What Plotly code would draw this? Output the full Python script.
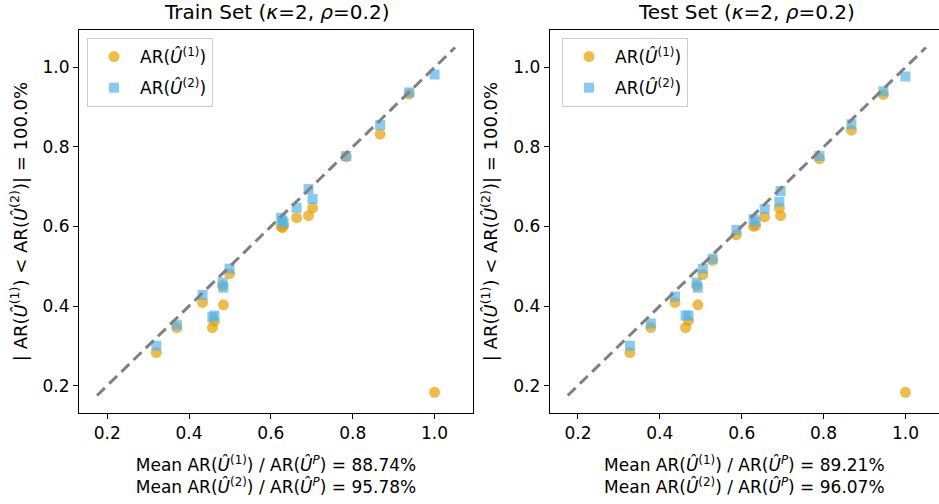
import plotly.graph_objects as go

# ---------------- data ----------------
train_x = [0.320, 0.370, 0.433, 0.457, 0.462, 0.482, 0.484, 0.499, 0.625, 0.631, 0.628,
           0.663, 0.692, 0.702, 0.784, 0.867, 0.938, 1.000]
train_u1 = [0.283, 0.346, 0.409, 0.346, 0.362, 0.451, 0.403, 0.481, 0.600, 0.603, 0.597,
            0.622, 0.627, 0.647, 0.775, 0.832, 0.933, 0.183]
train_u2 = [0.300, 0.353, 0.428, 0.372, 0.376, 0.459, 0.446, 0.494, 0.622, 0.609, 0.614,
            0.647, 0.694, 0.669, 0.777, 0.855, 0.937, 0.982]

test_x = [0.327, 0.378, 0.437, 0.463, 0.470, 0.490, 0.493, 0.505, 0.529, 0.587, 0.629,
          0.634, 0.656, 0.692, 0.695, 0.790, 0.868, 0.946, 1.000]
test_u1 = [0.283, 0.346, 0.409, 0.346, 0.363, 0.451, 0.403, 0.479, 0.515, 0.579, 0.600,
           0.603, 0.624, 0.647, 0.627, 0.770, 0.842, 0.932, 0.183]
test_u2 = [0.300, 0.356, 0.424, 0.376, 0.376, 0.459, 0.446, 0.494, 0.519, 0.591, 0.619,
           0.612, 0.644, 0.662, 0.689, 0.777, 0.857, 0.940, 0.977]

diag = [0.175, 1.05]
panel_titles = ["Train Set (<i>κ</i>=2, <i>ρ</i>=0.2)", "Test Set (<i>κ</i>=2, <i>ρ</i>=0.2)"]
mean_ratio_1 = ["88.74%", "89.21%"]
mean_ratio_2 = ["95.78%", "96.07%"]
frac_better = ["100.0%", "100.0%"]
tick_vals = [0.2, 0.4, 0.6, 0.8, 1.0]

# ---------------- style ----------------
FONT = "DejaVu Sans"
ORANGE = "#E69F00"
BLUE = "#56B4E9"
W, H = 939, 504
FS = 17

U = "<i>Û</i>"
name1 = f"AR({U}<sup>(1)</sup>)"
name2 = f"AR({U}<sup>(2)</sup>)"

fig = go.Figure()

panels = [(train_x, train_u1, train_u2), (test_x, test_u1, test_u2)]
for i, (xs, u1, u2) in enumerate(panels):
    xa = "x" if i == 0 else "x2"
    ya = "y" if i == 0 else "y2"
    lg = "legend" if i == 0 else "legend2"
    fig.add_trace(go.Scatter(
        x=xs, y=u1, mode="markers", name=name1, xaxis=xa, yaxis=ya, legend=lg,
        legendgroup=f"a{i}",
        marker=dict(symbol="circle", size=11, color=ORANGE, opacity=0.7,
                    line=dict(width=0))))
    fig.add_trace(go.Scatter(
        x=xs, y=u2, mode="markers", name=name2, xaxis=xa, yaxis=ya, legend=lg,
        legendgroup=f"b{i}",
        marker=dict(symbol="square", size=10, color=BLUE, opacity=0.7,
                    line=dict(width=0))))
    fig.add_trace(go.Scatter(
        x=diag, y=diag, mode="lines", showlegend=False, xaxis=xa, yaxis=ya,
        line=dict(color="#808080", width=3, dash="11px,6px"), hoverinfo="skip"))

ydom = [91 / H, 474 / H]
axis_common = dict(showline=True, mirror=True, linecolor="black", linewidth=1,
                   ticks="outside", ticklen=5, tickwidth=1, tickcolor="black",
                   showgrid=False, zeroline=False, tickvals=tick_vals, tickformat=".1f",
                   tickfont=dict(family=FONT, size=FS, color="black"), automargin=False)

def xtitle(i):
    return (f"Mean AR({U}<sup>(1)</sup>) / AR({U}<sup><i>P</i></sup>) = {mean_ratio_1[i]}<br>"
            f"Mean AR({U}<sup>(2)</sup>) / AR({U}<sup><i>P</i></sup>) = {mean_ratio_2[i]}")

def ytitle(i):
    return (f"| AR({U}<sup>(1)</sup>) &lt; AR({U}<sup>(2)</sup>)| = {frac_better[i]}")

fig.update_layout(
    width=W, height=H, margin=dict(l=0, r=0, t=0, b=0),
    paper_bgcolor="white", plot_bgcolor="white",
    font=dict(family=FONT, size=FS, color="black"),
    xaxis=dict(domain=[79 / W, 473 / W], range=[0.131, 1.094], anchor="y",
               title=dict(text=xtitle(0), standoff=16, font=dict(size=FS)), **axis_common),
    yaxis=dict(domain=ydom, range=[0.131, 1.094], anchor="x",
               title=dict(text=ytitle(0), standoff=10, font=dict(size=18)), **axis_common),
    xaxis2=dict(domain=[549.7 / W, 1.0], range=[0.131, 1.082], anchor="y2",
                title=dict(text=xtitle(1), standoff=16, font=dict(size=FS)), **axis_common),
    yaxis2=dict(domain=ydom, range=[0.131, 1.094], anchor="x2",
                title=dict(text=ytitle(1), standoff=10, font=dict(size=18)), **axis_common),
    legend=dict(x=87 / W, y=(H - 38) / H, xanchor="left", yanchor="top",
                bgcolor="white", bordercolor="#cccccc", borderwidth=1,
                font=dict(family=FONT, size=FS), tracegroupgap=6, itemwidth=42),
    legend2=dict(x=562 / W, y=(H - 38) / H, xanchor="left", yanchor="top",
                 bgcolor="white", bordercolor="#cccccc", borderwidth=1,
                 font=dict(family=FONT, size=FS), tracegroupgap=6, itemwidth=42),
    annotations=[
        dict(text=panel_titles[0], x=(79 + 473) / 2 / W, y=(H - 12) / H, xref="paper", yref="paper",
             showarrow=False, xanchor="center", yanchor="middle", font=dict(family=FONT, size=20)),
        dict(text=panel_titles[1], x=(549.7 + 944) / 2 / W, y=(H - 12) / H, xref="paper", yref="paper",
             showarrow=False, xanchor="center", yanchor="middle", font=dict(family=FONT, size=20)),
    ],
)

fig.write_html("out.html", config={"displayModeBar": False},
               post_script="document.body.style.margin='0';")
